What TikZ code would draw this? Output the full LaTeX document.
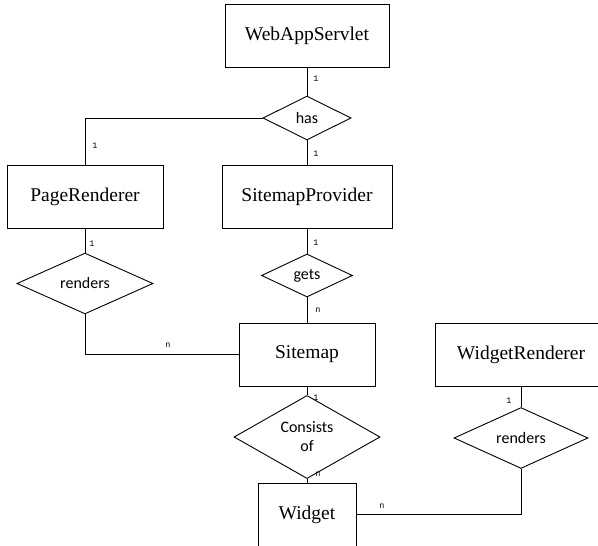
\documentclass[tikz,border=0pt]{standalone}
\usepackage{fontspec}
\setmainfont{Liberation Serif}
\newfontfamily\relfont{Carlito}
\newfontfamily\cardfont{Liberation Mono}
\usetikzlibrary{shapes.geometric}
\begin{document}
\begin{tikzpicture}[x=1pt,y=-1pt,
  entity/.style={draw, line width=0.9pt, minimum height=63pt, inner sep=0pt, font=\fontsize{19.5}{21}\selectfont},
  relation/.style={draw, diamond, line width=0.9pt, inner sep=0pt, align=center, font=\relfont\fontsize{16}{17}\selectfont},
  link/.style={line width=0.9pt},
  card/.style={inner sep=0pt, font=\cardfont\fontsize{8.5}{9}\selectfont}]
\useasboundingbox (0,0) rectangle (598,546);
\clip (0,0) rectangle (598,546);

% entities
\node[entity, minimum width=164pt] (ws) at (307,35.5) {WebAppServlet};
\node[entity, minimum width=156pt] (pr) at (85,196.5) {PageRenderer};
\node[entity, minimum width=170pt] (sp) at (307,196.5) {SitemapProvider};
\node[entity, minimum width=136pt] (sm) at (307,354.5) {Sitemap};
\node[entity, minimum width=172pt] (wr) at (521,354.5) {WidgetRenderer};
\node[entity, minimum width=98pt] (wg) at (307,514.5) {Widget};

% relationships
\node[relation, minimum width=88pt, minimum height=44pt] (has) at (307,118) {has};
\node[relation, minimum width=136pt, minimum height=51pt] (rend) at (85,283.5) {renders};
\node[relation, minimum width=91pt, minimum height=43pt] (gets) at (307,275.5) {gets};
\node[relation, minimum width=146pt, minimum height=54pt] (cons) at (307,437) {Consists\\[2pt]of};
\node[relation, minimum width=134pt, minimum height=52pt] (wrend) at (521,438) {renders};

% connectors
\draw[link] (ws.south) -- (has.north);
\draw[link] (has.west) -| (pr.north);
\draw[link] (has.south) -- (sp.north);
\draw[link] (pr.south) -- (rend.north);
\draw[link] (rend.south) |- (sm.west);
\draw[link] (sp.south) -- (gets.north);
\draw[link] (gets.south) -- (sm.north);
\draw[link] (sm.south) -- (cons.north);
\draw[link] (cons.south) -- (wg.north);
\draw[link] (wr.south) -- (wrend.north);
\draw[link] (wrend.south) |- (wg.east);

% cardinalities
\node[card] (c1) at (316,79) {1};
\node[card] (c2) at (95,146) {1};
\node[card] (c3) at (316,154) {1};
\node[card] (c4) at (92,244) {1};
\node[card] (c5) at (316,243) {1};
\node[card] (c6) at (318,310) {n};
\node[card] (c7) at (168,345) {n};
\node[card] (c8) at (316,398) {1};
\node[card] (c9) at (318,474) {n};
\node[card] (c10) at (509,401) {1};
\node[card] (c11) at (382,506) {n};
\end{tikzpicture}
\end{document}
